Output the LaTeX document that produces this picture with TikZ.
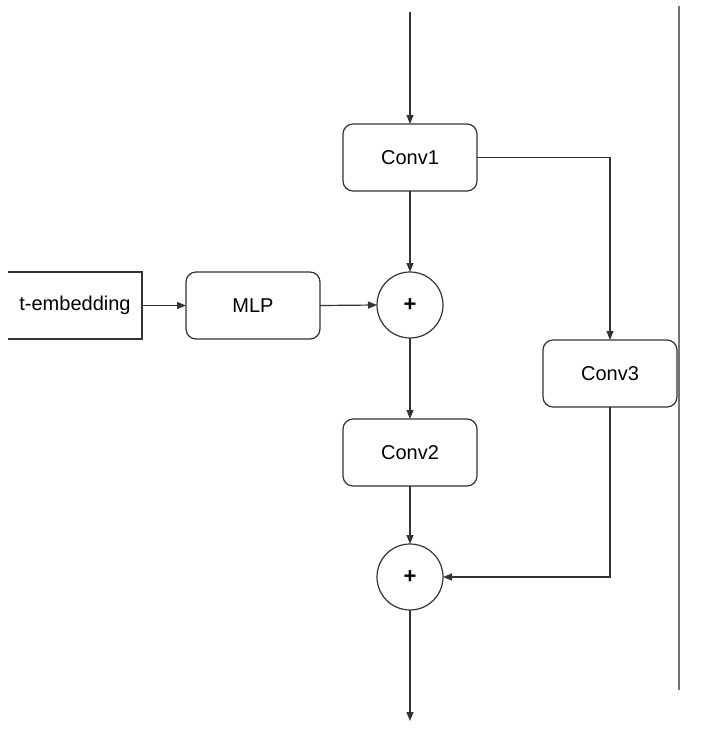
\documentclass[tikz,border=0pt]{standalone}
\usepackage{fontspec}
\setmainfont{Liberation Sans}
\usetikzlibrary{arrows.meta}
\begin{document}
\begin{tikzpicture}[x=1pt,y=-1pt,
  line width=1.2pt,
  every node/.style={outer sep=0pt, inner sep=0pt, font=\fontsize{20}{24}\selectfont},
  box/.style={draw=black!80, rounded corners=10pt, minimum width=134pt, minimum height=67pt},
  plainbox/.style={minimum width=134pt, minimum height=67pt},
  sumnode/.style={draw=black!80, circle, minimum size=66pt, font=\fontsize{22}{24}\selectfont\bfseries},
  conn/.style={draw=black!80, -{Triangle[length=9pt,width=7pt]}}
]
\useasboundingbox (0,0) rectangle (702,732);
\node[box] (c1) at (410,157.5) {Conv1};
\node[box] (c3) at (610,373.5) {Conv3};
\node[box] (c2) at (410,452.5) {Conv2};
\node[box] (mlp) at (253,305.5) {MLP};
\node[plainbox] (temb) at (75,305.5) {t-embedding};
\node[sumnode] (s1) at (410,305) {+};
\node[sumnode] (s2) at (410,577) {+};
\coordinate (top) at (410,12);
\coordinate (bot) at (410,721);
\coordinate (vt) at (679,6);
\coordinate (vb) at (679,690);
\draw[black!80] (temb.north west) -- (temb.north east) -- (temb.south east) -- (temb.south west);
\draw[black!55] (vt) -- (vb);
\draw[conn] (top) -- (c1.north);
\draw[conn] (c1.east) -| (c3.north);
\draw[conn] (c1.south) -- (s1.north);
\draw[conn] (temb.east) -- (mlp.west);
\draw[conn] (mlp.east) -- (s1.west);
\draw[conn] (s1.south) -- (c2.north);
\draw[conn] (c2.south) -- (s2.north);
\draw[conn] (c3.south) |- (s2.east);
\draw[conn] (s2.south) -- (bot);
\end{tikzpicture}
\end{document}
